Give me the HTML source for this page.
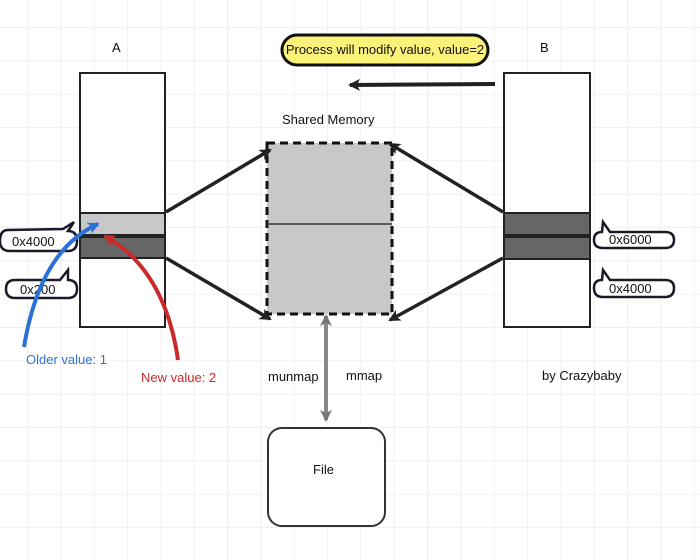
<!DOCTYPE html>
<html><head><meta charset="utf-8"><style>
html,body{margin:0;padding:0;background:#fff}
svg{display:block}
text{font-family:"Liberation Sans",sans-serif;font-size:13px;fill:#111}
</style></head><body>
<svg width="700" height="560" viewBox="0 0 700 560" xmlns="http://www.w3.org/2000/svg">
<defs>
<pattern id="g" x="27" y="27" width="33.33" height="33.33" patternUnits="userSpaceOnUse">
<path d="M0 0H33.33M0 0V33.33" stroke="#f0f0f0" stroke-width="2" fill="none"/>
</pattern>
<marker id="ah" markerWidth="14" markerHeight="14" refX="10" refY="7" orient="auto" markerUnits="userSpaceOnUse"><path d="M0,1 L12,7 L0,13 L3,7 Z" fill="#222"/></marker>
<marker id="ahg" markerWidth="14" markerHeight="14" refX="10" refY="7" orient="auto-start-reverse" markerUnits="userSpaceOnUse"><path d="M0,1 L12,7 L0,13 L3,7 Z" fill="#777"/></marker>
<marker id="ahb" markerWidth="14" markerHeight="14" refX="10" refY="7" orient="auto" markerUnits="userSpaceOnUse"><path d="M0,1 L12,7 L0,13 L3,7 Z" fill="#2b72d6"/></marker>
<marker id="ahr" markerWidth="14" markerHeight="14" refX="10" refY="7" orient="auto" markerUnits="userSpaceOnUse"><path d="M0,1 L12,7 L0,13 L3,7 Z" fill="#cc2a2a"/></marker>
</defs>
<rect width="700" height="560" fill="url(#g)"/>

<text x="112" y="52" font-size="12">A</text>
<rect x="80" y="73" width="85" height="254" fill="#fff" stroke="#222" stroke-width="2"/>
<rect x="80" y="213" width="85" height="22" fill="#c8c8c8" stroke="#222" stroke-width="2"/>
<rect x="80" y="237" width="85" height="21" fill="#666" stroke="#222" stroke-width="2"/>

<text x="540" y="52" font-size="12">B</text>
<rect x="504" y="73" width="86" height="254" fill="#fff" stroke="#222" stroke-width="2"/>
<rect x="504" y="213" width="86" height="22" fill="#666" stroke="#222" stroke-width="2"/>
<rect x="504" y="237" width="86" height="22" fill="#666" stroke="#222" stroke-width="2"/>

<rect x="282" y="35" width="206" height="30" rx="15" fill="#fbf27a" stroke="#111" stroke-width="3"/>
<text x="385" y="54" font-size="11.5" text-anchor="middle">Process will modify value, value=2</text>
<line x1="495" y1="84" x2="350" y2="85" stroke="#222" stroke-width="4" marker-end="url(#ah)"/>

<text x="282" y="124" font-size="12">Shared Memory</text>
<rect x="267" y="143" width="125" height="171" fill="#c8c8c8" stroke="#111" stroke-width="3" stroke-dasharray="8,5"/>
<line x1="267" y1="224" x2="392" y2="224" stroke="#333" stroke-width="1.5"/>

<g stroke="#222" stroke-width="3.5" fill="none">
<line x1="166" y1="212" x2="270" y2="150" marker-end="url(#ah)"/>
<line x1="166" y1="258" x2="270" y2="319" marker-end="url(#ah)"/>
<line x1="503" y1="212" x2="390" y2="144" marker-end="url(#ah)"/>
<line x1="503" y1="258" x2="390" y2="320" marker-end="url(#ah)"/>
</g>
<line x1="326" y1="316" x2="326" y2="420" stroke="#888" stroke-width="4" marker-start="url(#ahg)" marker-end="url(#ahg)"/>

<text x="268" y="381" font-size="12">munmap</text>
<text x="346" y="380" font-size="12">mmap</text>
<text x="542" y="380" font-size="13">by Crazybaby</text>

<rect x="268" y="428" width="117" height="98" rx="14" fill="#fff" stroke="#333" stroke-width="2"/>
<text x="313" y="474" font-size="13">File</text>

<g fill="#fff" stroke="#1a1a2a" stroke-width="2.5">
<path d="M8,230 Q0,230 0,241 Q0,251 10,251 L68,251 Q77,251 77,241 Q77,231 68,231 L74,222 L63,229 Z"/>
<path d="M15,280 Q6,280 6,289 Q6,298 15,298 L68,298 Q77,298 77,289 Q77,280 68,280 L68,270 L60,280 Z"/>
<path d="M602,232 Q594,232 594,240 Q594,248 603,248 L665,248 Q674,248 674,240 Q674,232 665,232 L610,232 L603,222 Z"/>
<path d="M602,280 Q594,280 594,288 Q594,297 603,297 L665,297 Q674,297 674,288 Q674,280 665,280 L610,280 L603,270 Z"/>
</g>
<text x="12" y="246" font-size="12.5">0x4000</text>
<text x="20" y="294" font-size="12.5">0x200</text>
<text x="609" y="244" font-size="12.5">0x6000</text>
<text x="609" y="293" font-size="12.5">0x4000</text>

<path d="M24,347 Q40,250 98,224" stroke="#2b72d6" stroke-width="4" fill="none" marker-end="url(#ahb)"/>
<path d="M178,360 Q165,270 105,236" stroke="#cc2a2a" stroke-width="4" fill="none" marker-end="url(#ahr)"/>
<text x="26" y="364" font-size="13" style="fill:#2b72d6">Older value: 1</text>
<text x="141" y="382" font-size="13" style="fill:#cc2a2a">New value: 2</text>
</svg>
</body></html>
